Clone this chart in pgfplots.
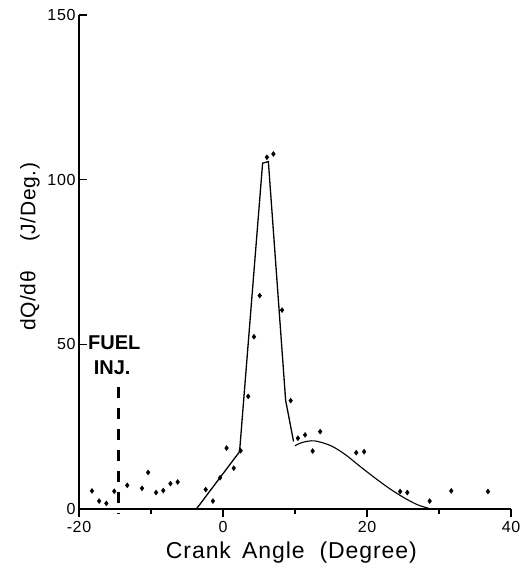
\documentclass[border=0pt]{standalone}
\usepackage{fontspec}
\setmainfont{Liberation Sans}
\usepackage{pgfplots}
\pgfplotsset{compat=1.18}
\begin{document}
\begin{tikzpicture}
\begin{axis}[
  at={(0,0)}, anchor=south west,
  scale only axis, width=432pt, height=494pt,
  xmin=-20, xmax=40, ymin=0, ymax=150,
  axis lines*=left,
  axis line style={line width=1.4pt},
  xtick={-20,0,20,40}, ytick={0,50,100,150},
  minor xtick={-10,10,30},
  xtick align=outside, ytick align=inside,
  major tick length=8pt, minor tick length=5pt,
  every tick/.style={black, line width=1.2pt},
  /pgf/number format/assume math mode=true,
  tick label style={font=\fontsize{16}{16}\selectfont\addfontfeature{LetterSpace=4}},
  xticklabel style={yshift=-1pt},
  clip=false,
]
% fuel injection marker
\addplot[black, line width=2.6pt, dash pattern=on 11pt off 10pt] coordinates {(-14.5,37) (-14.5,-1.5)};
% measured points
\addplot[only marks, mark=diamond*, mark size=2.5pt, black] coordinates {
(-18.2,5.5) (-17.2,2.4) (-16.2,1.7) (-15.1,5.4) (-13.3,7.2) (-11.25,6.3) (-10.4,11.1)
(-9.3,5.0) (-8.3,5.6) (-7.3,7.7) (-6.3,8.2)
(-2.4,5.9) (-1.4,2.4) (-0.4,9.5) (0.5,18.5) (1.5,12.4) (2.45,17.7) (3.5,34.2) (4.3,52.3)
(5.1,64.8) (6.1,106.8) (7.0,107.8) (8.2,60.4) (9.4,32.9)
(10.4,21.5) (11.4,22.5) (12.45,17.6) (13.5,23.5) (18.5,17.1) (19.6,17.4)
(24.6,5.3) (25.6,5.0) (28.7,2.4) (31.7,5.5) (36.8,5.3)
};
% polyline fit
\addplot[black, line width=1.3pt] coordinates {
(-3.7,0) (2.3,17.4) (5.5,105) (6.3,105.5) (8.7,33) (9.8,20.5)
};
% smooth decay
\addplot[black, line width=1.1pt, smooth] coordinates {
(10,19.2) (11,20.2) (12.7,20.7) (15,19.2) (17,16.5) (19,13.0) (21,9.6) (23,6.4) (25,3.6) (27,1.3) (28.9,0)
};
\node[font=\bfseries\fontsize{20}{20}\selectfont, inner sep=0pt] at (axis cs:-15.1,50.4) {FUEL};
\node[font=\bfseries\fontsize{20}{20}\selectfont, inner sep=0pt] at (axis cs:-15.4,42.8) {INJ.};
\node[font=\fontsize{23}{23}\selectfont\addfontfeature{LetterSpace=4}, inner sep=0pt] at ([yshift=-44pt]axis cs:9.5,0) {Crank\, Angle\, \,(Degree)};
\node[rotate=90, font=\fontsize{21}{21}\selectfont\addfontfeature{LetterSpace=3}, inner sep=0pt] at ([xshift=-49pt]axis cs:-20,79.6) {dQ/dθ\hspace{1.4em}(J/Deg.)};
\end{axis}
\pgfresetboundingbox
\path[use as bounding box] (-79pt,-63pt) rectangle (444pt,509pt);
\end{tikzpicture}
\end{document}
